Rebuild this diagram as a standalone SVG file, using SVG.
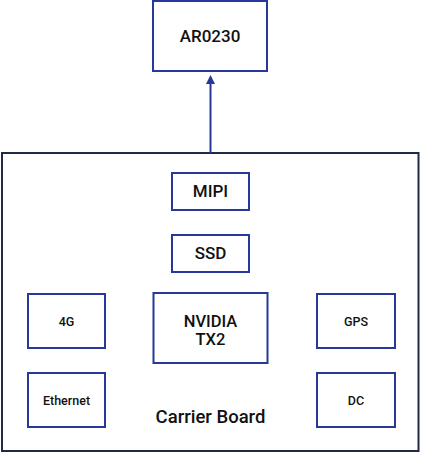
<svg xmlns="http://www.w3.org/2000/svg" width="421" height="453" viewBox="0 0 421 453">
<defs>
<style>
.box{fill:#fff;stroke:#27379a;stroke-width:2}
.outer{fill:#fff;stroke:#1e2a48;stroke-width:2}
.t{font-family:Roboto,"Liberation Sans",sans-serif;font-weight:500;fill:#111;text-anchor:middle}
.l{font-size:17px}
.s{font-size:12.5px}
.c{stroke:#27379a;stroke-width:2;fill:none}
</style>
</defs>
<rect width="421" height="453" fill="#fff"/>
<g id="carrier-board">
<rect class="outer" x="2" y="153" width="416.5" height="298"/>
<text class="t" x="210.5" y="423" style="font-size:18.5px">Carrier Board</text>
</g>
<g id="ar0230">
<rect class="box" x="153" y="1" width="114" height="70"/>
<text class="t l" x="210" y="42">AR0230</text>
</g>
<g id="mipi">
<rect class="box" x="172" y="173" width="77" height="37"/>
<text class="t l" x="210.5" y="197">MIPI</text>
</g>
<g id="ssd">
<rect class="box" x="172" y="235" width="77" height="37"/>
<text class="t l" x="210.5" y="259">SSD</text>
</g>
<g id="nvidia">
<rect class="box" x="153.5" y="293" width="114" height="70"/>
<text class="t" x="210.5" y="327" style="font-size:16.5px">NVIDIA</text>
<text class="t" x="210.5" y="345" style="font-size:16.5px">TX2</text>
</g>
<g id="g4">
<rect class="box" x="28" y="294" width="77" height="54"/>
<text class="t s" x="66.5" y="326">4G</text>
</g>
<g id="ethernet">
<rect class="box" x="28" y="373" width="77" height="54"/>
<text class="t s" x="66.5" y="405">Ethernet</text>
</g>
<g id="gps">
<rect class="box" x="317" y="294" width="78" height="54"/>
<text class="t s" x="356" y="326">GPS</text>
</g>
<g id="dc">
<rect class="box" x="317" y="373" width="78" height="54"/>
<text class="t s" x="356" y="405">DC</text>
</g>
<g id="connectors">
<line class="c" x1="210.5" y1="153" x2="210.5" y2="82"/>
<path d="M206,84 L210.5,75 L215,84 Z" fill="#27379a"/>
</g>
</svg>
